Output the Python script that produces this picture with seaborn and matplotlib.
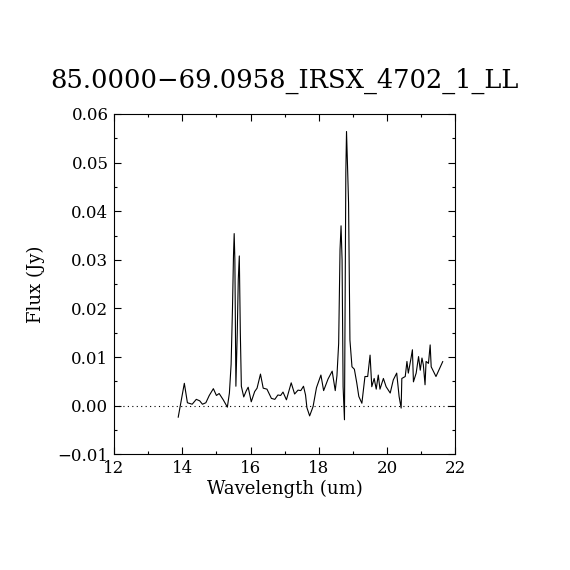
import matplotlib
matplotlib.use("Agg")
import matplotlib.pyplot as plt
from matplotlib.ticker import MultipleLocator
import seaborn as sns
import pandas as pd

title = "85.0000\u221269.0958_IRSX_4702_1_LL"
xlabel = "Wavelength (um)"
ylabel = "Flux (Jy)"

wavelength = [
    13.88, 14.06, 14.15, 14.29, 14.41, 14.51, 14.59, 14.69, 14.79, 14.91,
    15.00, 15.08, 15.20, 15.32, 15.38, 15.43, 15.47, 15.50, 15.52, 15.54,
    15.57, 15.61, 15.64, 15.67, 15.70, 15.73, 15.80, 15.87, 15.93, 16.02,
    16.12, 16.19, 16.29, 16.37, 16.48, 16.61, 16.71, 16.80, 16.88, 16.95,
    17.05, 17.19, 17.29, 17.39, 17.47, 17.55, 17.61, 17.65, 17.73, 17.83,
    17.93, 18.06, 18.14, 18.27, 18.39, 18.48, 18.53, 18.58, 18.62, 18.65,
    18.68, 18.71, 18.75, 18.79, 18.81, 18.84, 18.87, 18.91, 18.97, 19.04,
    19.11, 19.17, 19.26, 19.35, 19.43, 19.50, 19.55, 19.62, 19.68, 19.74,
    19.79, 19.89, 19.97, 20.09, 20.18, 20.28, 20.35, 20.41, 20.43, 20.53,
    20.58, 20.62, 20.70, 20.74, 20.77, 20.85, 20.92, 20.97, 21.02, 21.06,
    21.11, 21.14, 21.21, 21.26, 21.29, 21.43, 21.63,
]
flux = [
    -0.0024, 0.0046, 0.0006, 0.0003, 0.0013, 0.0010, 0.0003, 0.0006, 0.0021, 0.0035,
    0.0021, 0.0025, 0.0012, -0.0003, 0.0026, 0.0085, 0.0200, 0.0310, 0.0354, 0.0300,
    0.0040, 0.0150, 0.0260, 0.0308, 0.0150, 0.0040, 0.0018, 0.0030, 0.0038, 0.0008,
    0.0029, 0.0036, 0.0065, 0.0036, 0.0034, 0.0015, 0.0013, 0.0022, 0.0021, 0.0028,
    0.0012, 0.0047, 0.0024, 0.0032, 0.0031, 0.0040, 0.0022, -0.0004, -0.0021, -0.0002,
    0.0037, 0.0063, 0.0031, 0.0055, 0.0071, 0.0031, 0.0062, 0.0128, 0.0321, 0.0370,
    0.0300, 0.0039, -0.0029, 0.0480, 0.0564, 0.0492, 0.0417, 0.0135, 0.0080, 0.0075,
    0.0047, 0.0019, 0.0005, 0.0060, 0.0060, 0.0104, 0.0039, 0.0056, 0.0034, 0.0063,
    0.0034, 0.0056, 0.0039, 0.0026, 0.0053, 0.0067, 0.0019, -0.0005, 0.0056, 0.0060,
    0.0091, 0.0067, 0.0098, 0.0115, 0.0049, 0.0067, 0.0101, 0.0073, 0.0098, 0.0084,
    0.0043, 0.0091, 0.0087, 0.0125, 0.0080, 0.0060, 0.0091,
]

sns.set_style("ticks")
plt.rcParams["font.family"] = ["DejaVu Serif", "DejaVu Sans"]
plt.rcParams["text.color"] = "black"
plt.rcParams["axes.labelcolor"] = "black"

df = pd.DataFrame({"wavelength": wavelength, "flux": flux})

fig = plt.figure(figsize=(5.7, 5.7), dpi=100)
ax = fig.add_axes([0.200, 0.203, 0.599, 0.597])

sns.lineplot(data=df, x="wavelength", y="flux", ax=ax, color="black",
             linewidth=0.8, estimator=None, sort=False)
ax.axhline(0, color="black", linestyle=(0, (1, 3)), linewidth=0.8)

ax.set_xlim(12, 22)
ax.set_ylim(-0.01, 0.06)
ax.xaxis.set_major_locator(MultipleLocator(2))
ax.xaxis.set_minor_locator(MultipleLocator(1))
ax.yaxis.set_major_locator(MultipleLocator(0.01))
ax.yaxis.set_minor_locator(MultipleLocator(0.005))
ax.yaxis.set_major_formatter(matplotlib.ticker.FuncFormatter(
    lambda v, p: f"{v:.2f}".replace("-", "\u2212")))
ax.tick_params(which="both", direction="in", top=True, right=True,
               labelsize=12, colors="black", width=0.8)
ax.tick_params(which="major", length=5, pad=4)
ax.tick_params(which="minor", length=2.5)
for s in ax.spines.values():
    s.set_linewidth(0.8)
    s.set_color("black")

ax.set_xlabel(xlabel, fontsize=13, labelpad=2, color="black")
ax.set_ylabel(ylabel, fontsize=13, labelpad=9, color="black")
ax.set_title(title, fontsize=18.5, pad=19, color="black")

fig.savefig("out.png", dpi=100)
